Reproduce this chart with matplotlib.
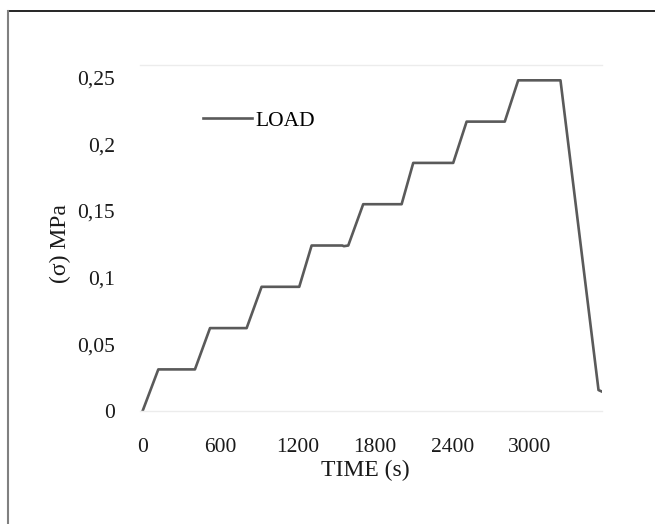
import matplotlib
matplotlib.use('Agg')
import matplotlib.pyplot as plt
from matplotlib.lines import Line2D

plt.rcParams['font.family'] = 'Liberation Serif'

# loading history
time_s = [0, 121, 405, 522, 806, 922, 1214, 1310, 1548, 1560, 1594, 1710, 2008,
          2098, 2408, 2512, 2808, 2912, 3240, 3535, 3558]
stress_mpa = [0, 0.031, 0.031, 0.062, 0.062, 0.093, 0.093, 0.124, 0.124, 0.1235,
              0.124, 0.155, 0.155, 0.186, 0.186, 0.217, 0.217, 0.248, 0.248,
              0.0155, 0.0145]

xticks = [0, 600, 1200, 1800, 2400, 3000]
yticks = [0, 0.05, 0.1, 0.15, 0.2, 0.25]
ytick_labels = ['0', '0,05', '0,1', '0,15', '0,2', '0,25']

W, H = 655, 524
fig = plt.figure(figsize=(W / 100, H / 100), dpi=100)
left, right, bottom, top = 140, 602, 410.7, 65
ax = fig.add_axes([left / W, 1 - bottom / H, (right - left) / W, (bottom - top) / H])

ax.plot(time_s, stress_mpa, color='#5a5a5a', lw=1.9, label='LOAD')

ax.set_xlim(-21, 3562)
ax.set_ylim(0, 0.2595)
ax.set_xticks(xticks)
ax.set_yticks(yticks)
ax.set_yticklabels(ytick_labels)
ax.tick_params(length=0, labelsize=15.5, colors='#1a1a1a')
ax.tick_params(axis='x', pad=20)
ax.tick_params(axis='y', pad=18)

for s in ['left', 'right']:
    ax.spines[s].set_visible(False)
for s in ['top', 'bottom']:
    ax.spines[s].set_color('#ececec')
    ax.spines[s].set_linewidth(1.0)

ax.set_xlabel('TIME (s)', fontsize=17, va='center', color='#1a1a1a')
ax.xaxis.set_label_coords((365 - left) / (right - left), (bottom - 470) / (bottom - top))
ax.set_ylabel('(σ) MPa', fontsize=17, va='center', color='#1a1a1a')
ax.yaxis.set_label_coords((60.7 - left) / (right - left), (bottom - 244) / (bottom - top))

ax.legend(loc='center left', bbox_to_anchor=(202.7 / W, 1 - 120.7 / H),
          bbox_transform=fig.transFigure, frameon=False, fontsize=15.5,
          handlelength=2.3, handletextpad=0.15, borderpad=0, borderaxespad=0)

# frame of the cropped original
fig.add_artist(Line2D([8 / W, 1], [1 - 10.5 / H, 1 - 10.5 / H], color='black', lw=1.2))
fig.add_artist(Line2D([8.3 / W, 8.3 / W], [0, 1 - 10.5 / H], color='#808080', lw=1.5))

fig.savefig('out.png', dpi=100)
